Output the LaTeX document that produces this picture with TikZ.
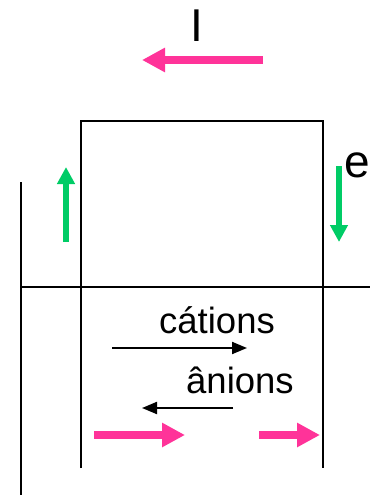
\documentclass[tikz,border=0pt]{standalone}
\usepackage{fontspec}
\setmainfont{Liberation Sans}
\usetikzlibrary{arrows.meta}
\definecolor{curpink}{HTML}{FF3399}
\definecolor{elgreen}{HTML}{00CC66}
\tikzset{
  wire/.style={line width=2pt, black},
  bigarrow/.style={line width=8pt, curpink, -{Triangle[length=23pt,width=23pt]}},
  elarrow/.style={line width=6pt, elgreen, -{Triangle[length=17pt,width=17pt]}},
  ionarrow/.style={line width=2pt, black, -{Triangle[length=15pt,width=12pt]}},
  bigtxt/.style={inner sep=0pt, anchor=base west, font=\fontsize{46}{50}\selectfont},
  iontxt/.style={inner sep=0pt, anchor=base west, font=\fontsize{36.5}{40}\selectfont},
}
\begin{document}
\begin{tikzpicture}[x=1pt,y=-1pt]
  \useasboundingbox (0,0) rectangle (370,495);
  % labels
  \node[bigtxt] (I) at (190,42) {I};
  \node[bigtxt] (e) at (344,177) {e};
  \node[iontxt] (cat) at (159,333) {cátions};
  \node[iontxt] (an) at (186,393) {ânions};
  % electrodes and electrolyte boundary
  \coordinate (tl) at (81,121);
  \coordinate (tr) at (323,121);
  \coordinate (bl) at (81,468);
  \coordinate (br) at (323,468);
  \draw[wire] (bl) -- (tl) -- (tr) -- (br);
  \coordinate (hl) at (20,287);
  \coordinate (hr) at (370,287);
  \draw[wire] (hl) -- (hr);
  \coordinate (vt) at (21,182);
  \coordinate (vb) at (21,495);
  \draw[wire] (vt) -- (vb);
  % current arrows
  \coordinate (i1) at (263,60);
  \coordinate (i2) at (142,60);
  \draw[bigarrow] (i1) -- (i2);
  \coordinate (j1) at (94,435);
  \coordinate (j2) at (185,435);
  \draw[bigarrow] (j1) -- (j2);
  \coordinate (k1) at (259,435);
  \coordinate (k2) at (320,435);
  \draw[bigarrow] (k1) -- (k2);
  % electron arrows
  \coordinate (eu1) at (66,242);
  \coordinate (eu2) at (66,167);
  \draw[elarrow] (eu1) -- (eu2);
  \coordinate (ed1) at (339,166);
  \coordinate (ed2) at (339,242);
  \draw[elarrow] (ed1) -- (ed2);
  % ion arrows
  \coordinate (c1) at (112,348);
  \coordinate (c2) at (247,348);
  \draw[ionarrow] (c1) -- (c2);
  \coordinate (a1) at (233,408);
  \coordinate (a2) at (142,408);
  \draw[ionarrow] (a1) -- (a2);
\end{tikzpicture}
\end{document}
